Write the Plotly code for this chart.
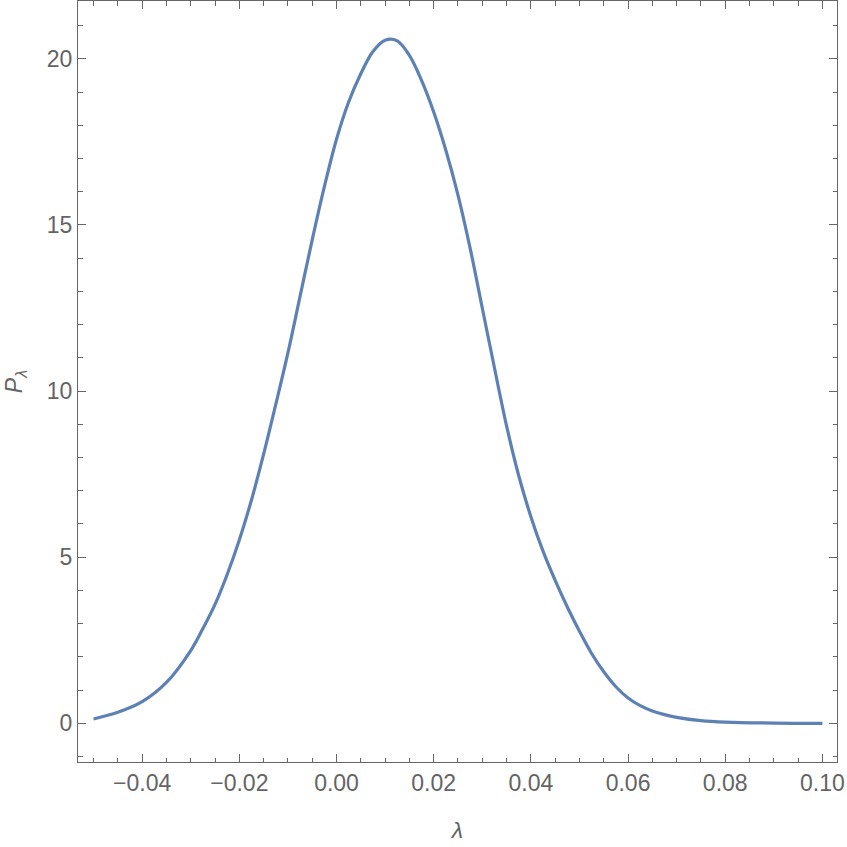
import plotly.graph_objects as go

# data
lam = [-0.0500, -0.0450, -0.0400, -0.0350, -0.0300, -0.0275, -0.0250, -0.0225,
       -0.0200, -0.0175, -0.0150, -0.0125, -0.0100, -0.0075, -0.0050, -0.0025,
       0.0000, 0.0025, 0.0050, 0.0075, 0.0100, 0.0125, 0.0150, 0.0175, 0.0200,
       0.0225, 0.0250, 0.0275, 0.0300, 0.0325, 0.0350, 0.0375, 0.0400, 0.0425,
       0.0450, 0.0475, 0.0500, 0.0525, 0.0550, 0.0575, 0.0600, 0.0625, 0.0650,
       0.0675, 0.0700, 0.0750, 0.0800, 0.0900, 0.1000]
p_lam = [0.13, 0.33, 0.65, 1.23, 2.19, 2.85, 3.58, 4.48,
         5.52, 6.72, 8.10, 9.60, 11.15, 12.85, 14.55, 16.15,
         17.58, 18.70, 19.55, 20.22, 20.56, 20.54, 20.10, 19.35, 18.40,
         17.25, 15.90, 14.30, 12.50, 10.70, 8.95, 7.45, 6.22, 5.18,
         4.30, 3.50, 2.77, 2.10, 1.55, 1.10, 0.76, 0.53, 0.37,
         0.26, 0.18, 0.08, 0.035, 0.006, 0.0]

x_range = [-0.0532, 0.1030]
y_range = [-1.165, 21.74]

frame = "#666666"
txt = "#646464"
font = "Liberation Sans, Arial, sans-serif"

fig = go.Figure()
fig.add_trace(go.Scatter(x=lam, y=p_lam, mode="lines",
                         line=dict(color="#5E81B5", width=3.2, shape="spline", smoothing=1.0),
                         showlegend=False, hoverinfo="skip"))
# empty trace so the top/right tick axes are drawn
fig.add_trace(go.Scatter(x=[None], y=[None], xaxis="x2", yaxis="y2",
                         showlegend=False, hoverinfo="skip"))

tickfont = dict(family=font, size=23, color=txt)
common = dict(showgrid=False, zeroline=False, ticks="inside", tickcolor=frame,
              tickwidth=1, ticklen=8, fixedrange=True)
xminor = dict(dtick=0.005, tick0=0, ticks="inside", ticklen=4.5,
              tickcolor=frame, tickwidth=1, showgrid=False)
yminor = dict(dtick=1, tick0=0, ticks="inside", ticklen=4.5,
              tickcolor=frame, tickwidth=1, showgrid=False)

fig.update_layout(
    width=847, height=847, paper_bgcolor="white", plot_bgcolor="white",
    margin=dict(l=78, r=10, t=1, b=85, autoexpand=False),
    xaxis=dict(range=x_range, dtick=0.02, tick0=0, tickformat=".2f",
               showline=True, linecolor=frame, linewidth=1, mirror=True,
               minor=xminor, tickfont=tickfont,
               title=dict(text="<i>λ</i>", font=dict(family=font, size=23, color=txt),
                          standoff=27),
               **common),
    yaxis=dict(range=y_range, dtick=5, tick0=0,
               showline=True, linecolor=frame, linewidth=1, mirror=True,
               minor=yminor, tickfont=tickfont,
               title=dict(text="<i>P</i><sub><i>λ</i></sub>",
                          font=dict(family=font, size=23, color=txt), standoff=17),
               **common),
    xaxis2=dict(range=x_range, dtick=0.02, tick0=0, overlaying="x", side="top",
                showline=False, showticklabels=False, minor=xminor, **common),
    yaxis2=dict(range=y_range, dtick=5, tick0=0, overlaying="y", side="right",
                showline=False, showticklabels=False, minor=yminor, **common),
)

fig.write_html("out.html", config={"displayModeBar": False},
               post_script="document.body.style.margin='0';")
